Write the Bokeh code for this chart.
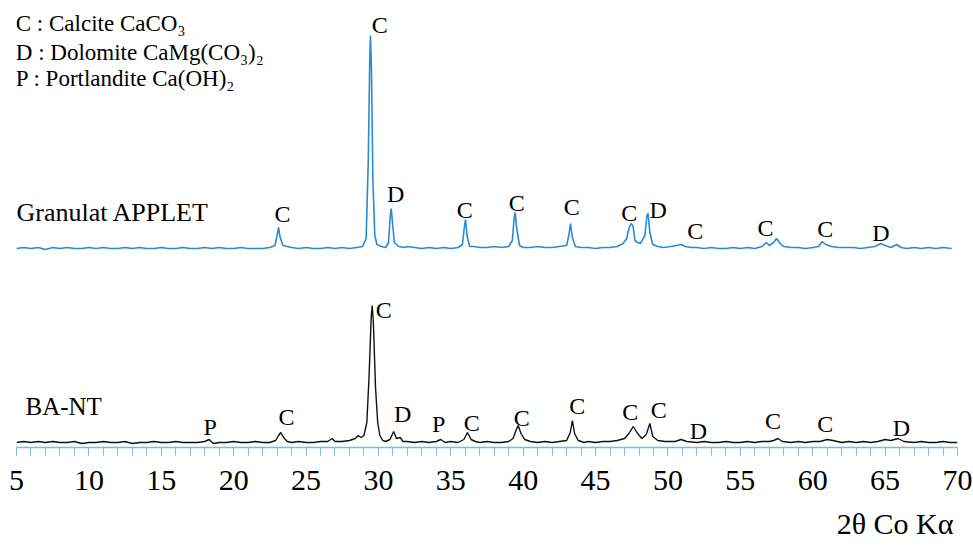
from bokeh.plotting import figure
from bokeh.models import Range1d, SingleIntervalTicker, Title
from bokeh.core.properties import value
from bokeh.embed import file_html
from bokeh.resources import INLINE

# ---------------- data ----------------
# BA-NT pattern: 2theta (deg), relative intensity
ba_tt = [5.0, 5.5, 6.0, 6.5, 7.0, 7.5, 8.0, 8.5, 9.0, 9.5, 10.0, 10.5, 11.0, 11.5, 12.0, 12.5,
         13.0, 13.5, 14.0, 14.5, 15.0, 15.5, 16.0, 16.5, 17.0, 17.5, 18.0, 18.3, 18.6, 19.0, 19.5,
         20.0, 20.5, 21.0, 21.5, 22.0, 22.5, 22.9, 23.1, 23.25, 23.45, 23.7, 24.0, 24.5, 25.0,
         25.5, 26.0, 26.5, 26.8, 27.0, 27.5, 28.0, 28.4, 28.6, 28.8, 29.0, 29.2, 29.35, 29.5,
         29.57, 29.65, 29.8, 29.95, 30.1, 30.3, 30.5, 30.8, 31.05, 31.25, 31.5, 31.7, 32.0, 32.5,
         33.0, 33.5, 34.0, 34.3, 34.6, 35.0, 35.5, 35.9, 36.15, 36.4, 36.7, 37.0, 37.5, 38.0,
         38.5, 39.0, 39.3, 39.5, 39.65, 39.85, 40.1, 40.5, 41.0, 41.5, 42.0, 42.5, 43.0, 43.25,
         43.4, 43.55, 43.8, 44.2, 44.5, 45.0, 45.5, 46.0, 46.5, 47.0, 47.3, 47.6, 47.9, 48.2,
         48.5, 48.75, 48.95, 49.3, 49.8, 50.5, 50.9, 51.3, 52.0, 52.5, 53.0, 53.5, 54.0, 54.5,
         55.0, 55.5, 56.0, 56.5, 57.0, 57.3, 57.6, 57.9, 58.5, 59.0, 59.5, 60.0, 60.5, 61.0,
         61.4, 62.0, 62.5, 63.0, 63.5, 64.0, 64.5, 65.0, 65.4, 65.9, 66.3, 67.0, 67.5, 68.0,
         68.5, 69.0, 69.5, 70.0]
ba_int = [5, 6, 5, 6, 5, 6, 5, 5, 6, 4, 5, 5, 6, 5, 5, 6,
          4, 5, 5, 6, 5, 5, 6, 5, 5, 5, 6, 8, 4, 5, 5,
          6, 5, 5, 6, 5, 5, 7, 12, 15, 10, 6, 5, 6, 5,
          5, 6, 6, 9, 6, 6, 7, 9, 12, 10, 12, 25, 70, 130,
          142, 125, 60, 25, 12, 7, 6, 8, 16, 9, 10, 6, 6, 5,
          6, 5, 6, 8, 5, 6, 5, 8, 15, 8, 6, 5, 6, 5,
          5, 6, 9, 17, 22, 14, 8, 6, 5, 6, 5, 6, 7, 15,
          27, 14, 7, 5, 6, 5, 6, 6, 7, 9, 14, 21, 14, 9,
          13, 24, 11, 7, 6, 6, 8, 6, 5, 6, 5, 5, 6, 5,
          5, 6, 5, 6, 6, 7, 9, 6, 5, 6, 5, 6, 6, 8,
          7, 5, 6, 5, 6, 5, 6, 8, 7, 9, 6, 5, 6, 5,
          5, 6, 5, 5]

# Granulat APPLET pattern: 2theta (deg), relative intensity
gr_tt = [5.0, 5.5, 6.0, 6.5, 7.0, 7.5, 8.0, 8.5, 9.0, 9.5, 10.0, 10.5, 11.0, 11.5, 12.0, 12.5,
         13.0, 13.5, 14.0, 14.5, 15.0, 15.5, 16.0, 16.5, 17.0, 17.5, 18.0, 18.5, 19.0, 19.5,
         20.0, 20.5, 21.0, 21.5, 22.0, 22.5, 22.85, 23.0, 23.1, 23.2, 23.4, 23.7, 24.0, 24.5,
         25.0, 25.5, 26.0, 26.5, 27.0, 27.5, 28.0, 28.5, 28.9, 29.15, 29.3, 29.4, 29.45, 29.52,
         29.62, 29.75, 29.9, 30.2, 30.5, 30.7, 30.82, 30.88, 30.96, 31.1, 31.4, 31.8, 32.0,
         32.5, 33.0, 33.5, 34.0, 34.5, 35.0, 35.5, 35.8, 35.95, 36.02, 36.12, 36.3, 36.6, 37.0,
         37.5, 38.0, 38.5, 39.0, 39.25, 39.38, 39.45, 39.55, 39.75, 40.0, 40.5, 41.0, 41.5,
         42.0, 42.5, 43.0, 43.15, 43.27, 43.38, 43.6, 44.0, 44.5, 45.0, 45.5, 46.0, 46.5, 46.9,
         47.15, 47.3, 47.45, 47.58, 47.72, 47.9, 48.1, 48.4, 48.55, 48.63, 48.75, 48.95, 49.3,
         49.7, 50.2, 50.6, 50.9, 51.2, 51.6, 52.0, 52.5, 53.0, 53.5, 54.0, 54.5, 55.0, 55.5,
         56.0, 56.5, 56.8, 57.0, 57.3, 57.5, 57.75, 58.0, 58.5, 59.0, 59.5, 60.0, 60.4, 60.65,
         60.9, 61.3, 61.8, 62.3, 62.8, 63.3, 63.8, 64.3, 64.7, 65.0, 65.4, 65.8, 66.1, 66.5,
         67.0, 67.5, 68.0, 68.5, 69.0, 69.6]
gr_int = [2, 3, 2, 3, 1, 3, 2, 3, 2, 2, 3, 2, 3, 2, 2, 3,
          2, 3, 2, 2, 3, 2, 2, 3, 2, 2, 3, 2, 3, 2,
          2, 3, 2, 2, 2, 3, 5, 15, 23, 14, 5, 4, 3, 2,
          3, 2, 2, 3, 2, 3, 2, 3, 4, 12, 90, 190, 215, 180,
          70, 15, 6, 4, 3, 8, 35, 42, 30, 8, 4, 3, 4,
          3, 2, 3, 2, 3, 2, 3, 6, 25, 31, 15, 4, 4, 3,
          3, 4, 3, 4, 10, 33, 38, 22, 5, 3, 3, 4, 3,
          3, 4, 5, 15, 27, 14, 4, 3, 3, 2, 3, 3, 4, 7,
          12, 22, 27, 25, 10, 8, 7, 15, 35, 37, 18, 6, 4,
          3, 4, 5, 6, 4, 3, 3, 2, 3, 2, 2, 3, 2, 3,
          2, 4, 8, 5, 8, 12, 7, 4, 3, 3, 2, 3, 4, 9,
          6, 4, 3, 3, 3, 2, 3, 4, 7, 5, 3, 6, 3, 2,
          3, 2, 3, 2, 3, 2]

# phase labels: (letter, 2theta, height) for each pattern
gr_lbl = ["C", "C", "D", "C", "C", "C", "C", "D", "C", "C", "C", "D"]
gr_lbl_tt = [23.38, 30.09, 31.19, 35.96, 39.55, 43.36, 47.33, 49.33, 51.89, 56.73, 60.87, 64.71]
gr_lbl_y = [37, 226, 57, 41, 48, 44, 38, 41, 20, 23, 22, 18]

ba_lbl = ["P", "C", "C", "D", "P", "C", "C", "C", "C", "C", "D", "C", "C", "D"]
ba_lbl_tt = [18.37, 23.65, 30.36, 31.68, 34.16, 36.44, 39.9, 43.73, 47.4, 49.37, 52.1, 57.25, 60.87, 66.13]
ba_lbl_y = [21, 31, 138, 34, 24, 25, 30, 42, 36, 38, 17, 27, 24, 20]

legend_lines = ["C : Calcite CaCO\u2083",
                "D : Dolomite CaMg(CO\u2083)\u2082",
                "P : Portlandite Ca(OH)\u2082"]
sample_names = ["Granulat APPLET", "BA-NT"]
x_title = "2\u03b8 Co K\u03b1"

GR_OFFSET = 197  # vertical offset of the upper pattern

# ---------------- figure ----------------
FONT = "Liberation Serif"
AXIS_COLOR = "#86b6d9"

p = figure(width=973, height=552, output_backend="svg", toolbar_location=None,
           x_range=Range1d(5, 70), y_range=Range1d(0, 447),
           y_axis_location=None, min_border_left=16, min_border_right=16,
           min_border_top=0, min_border_bottom=105)
p.outline_line_color = None
p.grid.visible = False
p.background_fill_color = "white"
p.border_fill_color = "white"

gr_y = [v + GR_OFFSET for v in gr_int]
p.line(gr_tt, gr_y, line_color="#2a8ad4", line_width=1.6)
p.line(ba_tt, ba_int, line_color="#111111", line_width=1.4)

# peak labels
p.text(x=gr_lbl_tt, y=[v + GR_OFFSET for v in gr_lbl_y], text=gr_lbl,
       text_font=value(FONT), text_font_size="24px", text_color="black",
       text_align="center", text_baseline="middle")
p.text(x=ba_lbl_tt, y=ba_lbl_y, text=ba_lbl,
       text_font=value(FONT), text_font_size="24px", text_color="black",
       text_align="center", text_baseline="middle")

# sample names
p.text(x=[5.0], y=[38 + GR_OFFSET], text=[sample_names[0]],
       text_font=value(FONT), text_font_size="26px", text_color="black",
       text_align="left", text_baseline="middle")
p.text(x=[5.62], y=[41], text=[sample_names[1]],
       text_font=value(FONT), text_font_size="25px", text_color="black",
       text_align="left", text_baseline="middle")

# phase legend
p.text(x=[4.95, 4.95, 4.95], y=[424, 395, 369], text=legend_lines,
       text_font=value(FONT), text_font_size="23px", text_color="black",
       text_align="left", text_baseline="middle")

# x axis
ax = p.xaxis[0]
ax.ticker = SingleIntervalTicker(interval=5, num_minor_ticks=5)
ax.axis_line_color = AXIS_COLOR
ax.axis_line_width = 1.5
ax.major_tick_line_color = AXIS_COLOR
ax.minor_tick_line_color = AXIS_COLOR
ax.major_tick_in = 0
ax.major_tick_out = 8
ax.minor_tick_in = 0
ax.minor_tick_out = 8
ax.major_label_text_font = FONT
ax.major_label_text_font_size = "30px"
ax.major_label_text_color = "black"
ax.major_label_standoff = 15

# axis title, right-aligned under the end of the axis
p.add_layout(Title(text=x_title, align="right", text_font=FONT, text_font_size="30px",
                   text_font_style="normal", text_color="black", standoff=25, offset=4),
             "below")

open("out.html", "w").write(file_html(p, INLINE))
